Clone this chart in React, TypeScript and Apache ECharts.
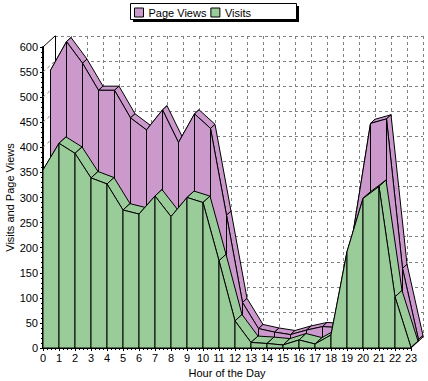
import React, { useEffect, useRef } from 'react';
import * as echarts from 'echarts';

const hours = [0, 1, 2, 3, 4, 5, 6, 7, 8, 9, 10, 11, 12, 13, 14, 15, 16, 17, 18, 19, 20, 21, 22, 23];
const pageViews = [540, 597, 554, 500, 500, 445, 421, 461, 396, 453, 424, 251, 77, 25, 18, 13, 22, 29, 27, 234, 434, 443, 145, 3];
const visits = [355, 408, 388, 339, 327, 275, 267, 303, 262, 300, 290, 174, 54, 11, 9, 6, 16, 8, 26, 192, 298, 322, 102, 1];
const yTicks = [0, 50, 100, 150, 200, 250, 300, 350, 400, 450, 500, 550, 600];

const PURPLE = '#cc99cc';
const GREEN = '#99cc99';
const FONT = 'Liberation Sans, Arial, sans-serif';
const DEPTH = 12;
const K = 11 / 12;

const segments = (vals: number[]) =>
  hours.slice(0, -1).map((h, i) => [h, vals[i], hours[i + 1], vals[i + 1]]);

const sh = (p: number[], z: number) => [p[0] + z, p[1] - z * K];

const makeRender = (zf: number, zb: number, color: string, lastIndex: number) => (params: any, api: any) => {
  const x0 = api.value(0), y0 = api.value(1), x1 = api.value(2), y1 = api.value(3);
  const p0 = api.coord([x0, y0]);
  const p1 = api.coord([x1, y1]);
  const b0 = api.coord([x0, 0]);
  const b1 = api.coord([x1, 0]);
  const style = { fill: color, stroke: '#000', lineWidth: 1 };
  const children: any[] = [
    { type: 'polygon', shape: { points: [sh(p0, zf), sh(p1, zf), sh(p1, zb), sh(p0, zb)] }, style },
    { type: 'polygon', shape: { points: [sh(b0, zf), sh(p0, zf), sh(p1, zf), sh(b1, zf)] }, style },
  ];
  if (params.dataIndex === lastIndex) {
    children.push({ type: 'polygon', shape: { points: [sh(b1, zf), sh(p1, zf), sh(p1, zb), sh(b1, zb)] }, style });
  }
  return { type: 'group', children };
};

const wallRender = (params: any, api: any) => {
  const v = api.value(0);
  const p = api.coord([0, v]);
  const q = sh(p, DEPTH);
  const top = v === yTicks[yTicks.length - 1];
  return {
    type: 'line',
    shape: { x1: p[0], y1: p[1], x2: q[0], y2: q[1] },
    style: top ? { stroke: '#000', lineWidth: 1 } : { stroke: '#808080', lineWidth: 1, lineDash: [3, 3] },
  };
};

export default function App() {
  const ref = useRef<HTMLDivElement>(null);
  useEffect(() => {
    const chart = echarts.init(ref.current!, null, { renderer: 'svg' });
    const lbl = { color: '#000', fontFamily: FONT, fontSize: 11 };
    chart.setOption({
      animation: false,
      backgroundColor: '#fff',
      textStyle: { fontFamily: FONT },
      graphic: [
        { type: 'rect', shape: { x: 133, y: 6, width: 166, height: 16 }, style: { fill: '#000' }, z: 0 },
        { type: 'rect', shape: { x: 130.5, y: 3.5, width: 166, height: 16 }, style: { fill: '#fff', stroke: '#000', lineWidth: 1 }, z: 0 },
      ],
      legend: {
        data: ['Page Views', 'Visits'],
        left: 134,
        top: 7,
        icon: 'rect',
        itemWidth: 9,
        itemHeight: 9,
        itemGap: 4,
        padding: 0,
        itemStyle: { borderColor: '#000', borderWidth: 1 },
        textStyle: { ...lbl },
      },
      grid: [
        { left: 43, top: 47, width: 368, height: 301, containLabel: false, outerBoundsMode: 'none' },
        { left: 55, top: 36, width: 368, height: 301, containLabel: false, outerBoundsMode: 'none' },
      ],
      xAxis: [
        {
          gridIndex: 0, type: 'value', min: 0, max: 23, interval: 1,
          name: 'Hour of the Day', nameLocation: 'middle', nameGap: 19, nameMoveOverlap: false,
          nameTextStyle: { ...lbl },
          axisLine: { show: true, lineStyle: { color: '#000', width: 1 } },
          axisTick: { show: true, length: 3, lineStyle: { color: '#000' } },
          minorTick: { show: true, splitNumber: 4, length: 2, lineStyle: { color: '#000' } },
          axisLabel: { ...lbl, margin: 4 },
          splitLine: { show: false },
        },
        {
          gridIndex: 1, type: 'value', min: 0, max: 23, interval: 1, position: 'top',
          axisLine: { show: true, lineStyle: { color: '#000', width: 1 } },
          axisTick: { show: false }, axisLabel: { show: false },
          splitLine: { show: true, lineStyle: { color: '#808080', type: [3, 3], width: 1 } },
        },
      ],
      yAxis: [
        {
          gridIndex: 0, type: 'value', min: 0, max: 600, interval: 50,
          name: 'Visits and Page Views', nameLocation: 'middle', nameGap: 28, nameRotate: 90, nameMoveOverlap: false,
          nameTextStyle: { ...lbl },
          axisLine: { show: true, lineStyle: { color: '#000', width: 2 } },
          axisTick: { show: true, length: 3, lineStyle: { color: '#000' } },
          minorTick: { show: true, splitNumber: 5, length: 2, lineStyle: { color: '#000' } },
          axisLabel: { ...lbl, margin: 5 },
          splitLine: { show: false },
        },
        {
          gridIndex: 1, type: 'value', min: 0, max: 600, interval: 50, position: 'right',
          axisLine: { show: true, lineStyle: { color: '#000', width: 1 } },
          axisTick: { show: false }, axisLabel: { show: false },
          splitLine: { show: true, lineStyle: { color: '#808080', type: [3, 3], width: 1 } },
        },
      ],
      series: [
        {
          type: 'custom', name: 'wall', xAxisIndex: 0, yAxisIndex: 0,
          data: yTicks.map((v) => [v]), renderItem: wallRender, silent: true,
          encode: { x: [], y: 0 },
        },
        {
          type: 'custom', name: 'Page Views', xAxisIndex: 0, yAxisIndex: 0,
          color: PURPLE, itemStyle: { color: PURPLE },
          data: segments(pageViews), renderItem: makeRender(7.5, 12, PURPLE, hours.length - 2),
          encode: { x: [0, 2], y: [1, 3] },
        },
        {
          type: 'custom', name: 'Visits', xAxisIndex: 0, yAxisIndex: 0,
          color: GREEN, itemStyle: { color: GREEN },
          data: segments(visits), renderItem: makeRender(0, 7, GREEN, hours.length - 2),
          encode: { x: [0, 2], y: [1, 3] },
        },
      ],
    });
    return () => chart.dispose();
  }, []);
  return <div ref={ref} style={{ position: 'absolute', left: 0, top: 0, width: 428, height: 381 }} />;
}
